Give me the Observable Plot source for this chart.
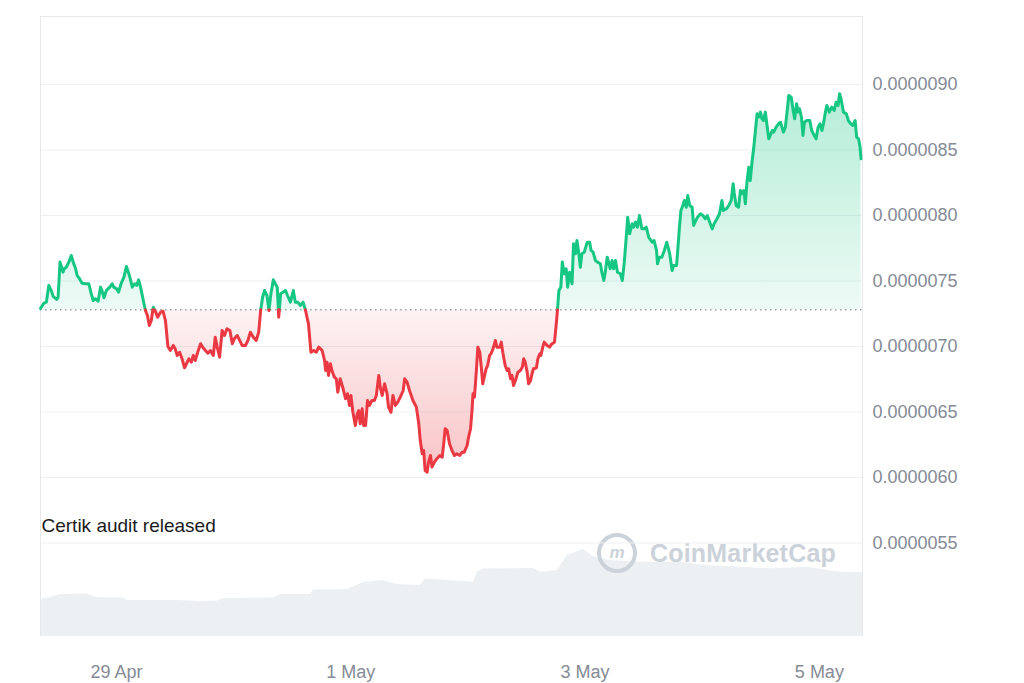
<!DOCTYPE html>
<html>
<head>
<meta charset="utf-8">
<script src="https://cdn.jsdelivr.net/npm/d3@7"></script>
<script src="https://cdn.jsdelivr.net/npm/@observablehq/plot@0.6"></script>
<style>
html, body { margin: 0; padding: 0; background: #fff; }
#wrap { position: relative; width: 1024px; height: 683px; overflow: hidden; font-family: "Liberation Sans", Arial, sans-serif; }
#wrap > svg { position: absolute; left: 0; top: 0; }
#wm { position: absolute; left: 597px; top: 533px; height: 40px; display: flex; align-items: center; color: #cbd2d9; pointer-events: none; }
#wm .ring { width: 32px; height: 32px; border: 4px solid #cbd2d9; border-radius: 50%; display: flex; align-items: center; justify-content: center; font: italic 700 17px "Liberation Sans", Arial, sans-serif; }
#wm .name { margin-left: 13px; font: 700 25px "Liberation Sans", Arial, sans-serif; letter-spacing: 0.2px; }
</style>
</head>
<body>
<svg width="0" height="0" style="position:absolute">
  <defs>
    <linearGradient id="gGreen" x1="0" y1="0" x2="0" y2="1">
      <stop offset="0" stop-color="#16c784" stop-opacity="0.32"/>
      <stop offset="1" stop-color="#16c784" stop-opacity="0.08"/>
    </linearGradient>
    <linearGradient id="gRed" x1="0" y1="0" x2="0" y2="1">
      <stop offset="0" stop-color="#ea3943" stop-opacity="0.06"/>
      <stop offset="1" stop-color="#ea3943" stop-opacity="0.30"/>
    </linearGradient>
  </defs>
</svg>
<div id="wrap"></div>
<script>
// ---- data ----
// hours since the first sample (28 Apr 08:26 UTC)
const hours = [
0,0.7,1.2,1.7,2.2,2.6,3.3,3.6,4.0,4.2,
4.6,4.9,5.3,5.8,6.3,6.7,7.2,7.5,8.0,8.5,
9.2,9.9,10.4,10.8,11.3,11.8,12.3,12.6,13.0,13.5,
14.2,14.7,15.0,15.6,16.0,16.5,17.1,17.6,18.0,18.3,
18.8,19.3,19.7,20.1,20.5,21.2,21.5,21.9,22.3,22.7,
23.1,23.6,24.0,24.6,25.1,25.6,26.1,26.6,27.2,27.6,
28.0,28.5,29.0,29.5,29.9,30.4,30.9,31.3,31.7,32.2,
32.8,33.3,33.8,34.3,34.8,35.4,35.8,36.2,36.7,37.2,
37.7,38.2,38.8,39.3,39.7,40.3,40.8,41.3,42.0,42.5,
43.0,43.6,44.2,44.7,45.1,45.5,45.9,46.4,46.8,47.2,
47.7,48.1,48.5,48.8,49.2,49.7,50.2,50.6,51.2,51.8,
52.2,52.7,53.2,53.8,54.3,54.9,55.4,56.0,56.5,57.0,
57.7,58.2,58.4,58.7,59.0,59.4,59.7,60.2,60.6,60.9,
61.4,62.0,62.5,62.9,63.3,63.6,64.0,64.5,64.9,65.2,
65.5,65.9,66.2,66.6,67.0,67.4,67.9,68.4,68.8,69.3,
69.6,70.0,70.5,71.0,71.3,71.8,72.2,72.7,73.2,73.7,
74.3,74.6,75.1,75.6,76.3,77.0,77.5,77.8,78.2,78.5,
78.8,79.2,79.5,79.9,80.2,80.7,81.2,81.8,82.3,82.6,
82.9,83.3,83.8,84.3,84.8,85.3,85.9,86.4,86.8,87.4,
87.7,88.1,88.4,88.6,88.9,89.3,89.6,90.0,90.3,90.6,
90.9,91.3,91.6,92.0,92.3,92.7,93.2,93.5,94.1,94.4,
94.7,95.2,95.6,95.9,96.3,96.6,96.9,97.3,97.8,98.3,
98.7,99.0,99.3,99.7,100.0,100.4,100.7,101.0,101.6,101.9,
102.3,102.5,102.9,103.2,103.8,104.3,104.8,105.3,105.7,105.9,
106.2,106.6,106.9,107.3,107.7,108.0,108.4,108.9,109.2,109.6,
109.9,110.2,110.6,110.9,111.4,112.0,112.5,112.8,113.2,113.7,
114.1,114.7,115.0,115.4,115.7,116.1,116.4,116.7,117.1,117.4,
117.8,118.2,118.8,119.2,119.6,120.0,120.3,120.7,121.2,121.5,
121.9,122.3,122.7,123.2,123.7,124.1,124.6,125.3,125.7,126.2,
126.4,126.8,127.3,127.8,128.3,128.9,129.4,129.7,130.3,130.5,
130.9,131.2,131.6,131.9,132.3,132.6,133.0,133.5,133.8,134.1,
134.6,135.2,135.7,136.2,136.6,137.1,137.6,138.0,138.6,139.1,
139.6,139.9,140.5,141.0,141.5,141.9,142.1,142.5,143.0,143.4,
143.7,144.1,144.4,144.7,145.1,145.4,145.8,146.1,146.4,146.8,
147.1,147.5,147.8,148.1,148.5,148.8,149.2,149.5,149.9,150.2,
150.7,151.2,151.6,151.9,152.2,152.6,152.9,153.3,153.8,154.2,
154.5,154.9,155.2,155.5,155.9,156.2,156.5,157.0,157.6,158.0,
158.5,158.9,159.3,159.7,160.1,160.4,160.8,161.1,161.6,162.1,
162.6,163.0,163.4,163.7,164.0,164.5,165.1,165.5,166.0,166.4,
166.9,167.2,167.6,167.9,168.1
];
// price in millionths of a dollar
const priceE6 = [
7.29,7.331,7.338,7.466,7.427,7.382,7.359,7.374,7.644,7.618,
7.567,7.595,7.605,7.644,7.695,7.644,7.593,7.542,7.517,7.483,
7.479,7.479,7.402,7.351,7.364,7.346,7.453,7.427,7.372,7.427,
7.453,7.479,7.453,7.44,7.415,7.479,7.529,7.611,7.567,7.529,
7.453,7.479,7.466,7.509,7.453,7.326,7.275,7.237,7.16,7.198,
7.30,7.262,7.224,7.262,7.269,7.198,7.0,6.969,7.008,6.982,
6.931,6.956,6.906,6.837,6.868,6.906,6.88,6.931,6.893,6.956,
7.021,6.99,6.969,6.949,6.969,6.931,7.071,6.995,6.918,7.122,
7.084,7.135,7.122,7.021,7.059,7.084,7.046,7.008,7.008,7.046,
7.109,7.071,7.046,7.109,7.275,7.376,7.427,7.389,7.275,7.402,
7.509,7.479,7.453,7.224,7.402,7.415,7.427,7.389,7.338,7.427,
7.338,7.338,7.313,7.338,7.275,7.173,6.956,6.969,6.956,6.995,
6.969,6.893,6.817,6.88,6.779,6.868,6.817,6.766,6.753,6.651,
6.753,6.677,6.601,6.639,6.55,6.626,6.498,6.397,6.486,6.511,
6.41,6.524,6.397,6.397,6.588,6.55,6.588,6.588,6.626,6.779,
6.689,6.626,6.715,6.639,6.537,6.498,6.626,6.55,6.575,6.613,
6.664,6.753,6.727,6.664,6.588,6.537,6.41,6.282,6.181,6.206,
6.053,6.04,6.117,6.168,6.079,6.117,6.143,6.168,6.155,6.257,
6.372,6.359,6.257,6.206,6.168,6.181,6.168,6.193,6.193,6.244,
6.308,6.372,6.511,6.639,6.613,6.817,6.995,6.956,6.842,6.715,
6.766,6.83,6.855,6.931,6.944,6.982,7.046,6.995,6.995,7.033,
6.956,6.855,6.817,6.83,6.753,6.779,6.702,6.74,6.804,6.817,
6.842,6.906,6.88,6.804,6.715,6.74,6.792,6.83,6.837,6.906,
6.944,6.931,6.995,7.033,7.008,6.995,7.021,7.033,7.185,7.275,
7.427,7.453,7.644,7.555,7.593,7.453,7.567,7.479,7.784,7.708,
7.809,7.733,7.605,7.708,7.72,7.796,7.796,7.733,7.72,7.656,
7.644,7.631,7.567,7.504,7.567,7.682,7.644,7.593,7.656,7.593,
7.656,7.567,7.555,7.504,7.644,7.834,7.987,7.86,7.937,7.911,
7.949,7.911,8.0,7.898,7.898,7.911,7.834,7.796,7.809,7.733,
7.631,7.682,7.682,7.733,7.796,7.708,7.58,7.618,7.618,7.708,
7.911,8.038,8.076,8.115,8.063,8.153,8.076,8.063,7.924,7.949,
7.987,8.013,8.0,7.975,8.0,7.949,7.898,7.937,7.975,8.013,
8.115,8.038,8.051,8.076,8.115,8.242,8.178,8.076,8.063,8.191,
8.166,8.191,8.089,8.242,8.369,8.267,8.42,8.509,8.624,8.776,
8.75,8.789,8.738,8.725,8.789,8.70,8.585,8.611,8.649,8.636,
8.674,8.70,8.712,8.674,8.636,8.674,8.776,8.916,8.903,8.802,
8.738,8.853,8.789,8.815,8.75,8.611,8.712,8.725,8.725,8.649,
8.611,8.585,8.674,8.70,8.649,8.70,8.789,8.84,8.789,8.827,
8.802,8.865,8.84,8.929,8.891,8.789,8.776,8.725,8.70,8.687,
8.725,8.598,8.585,8.521,8.433
];
// reference (opening) price, in millionths
const basePriceE6 = 7.28;

// volume (relative units) along the bottom band
const volHours = [0,2.0,4.1,9.2,11.7,17.0,17.8,28.1,32.8,36.3,37.5,47.7,49.2,55.3,55.9,62.9,66.2,70.2,73.1,77.8,78.8,83.4,88.7,89.5,90.7,101.0,102.4,105.9,107.9,109.6,111.2,113.3,116.7,122.9,131.1,136.6,143.4,150.1,157.1,163.8,168.4];
const volume = [37,39,42,42.5,39,38.5,36,36,35,35.5,38,38.5,42,42,46.5,47,54,56,52,51,57.5,56,54.3,64,67.5,68,64.3,66,81,84,87,80,76,74.3,74.3,71,69.3,67.7,69.3,64.3,64];

const yTicks = [0.0000055,0.0000060,0.0000065,0.0000070,0.0000075,0.0000080,0.0000085,0.0000090];
const xTicks = [new Date(Date.UTC(2024,3,29)), new Date(Date.UTC(2024,4,1)), new Date(Date.UTC(2024,4,3)), new Date(Date.UTC(2024,4,5))];
const annotations = ["Certik audit released"];

// ---- build ----
const start = Date.UTC(2024,3,28,8,26);
const spanHours = 168.4;
const end = start + spanHours * 36e5;
const xDomain = [new Date(start), new Date(end)];
const yDomain = [4.786e-6, 9.519e-6];
const base = basePriceE6 * 1e-6;
const GREEN = "#16c784", RED = "#ea3943";

const n = Math.min(hours.length, priceE6.length);
const rows = [];
for (let i = 0; i < n; i++) rows.push({date: new Date(start + hours[i] * 36e5), v: priceE6[i] * 1e-6});
// insert exact crossing points at the base price so colours split cleanly
const pts = [];
for (let i = 0; i < rows.length; i++) {
  if (i > 0) {
    const a = rows[i - 1], b = rows[i];
    if ((a.v - base) * (b.v - base) < 0) {
      const f = (base - a.v) / (b.v - a.v);
      pts.push({date: new Date(+a.date + f * (b.date - a.date)), v: base});
    }
  }
  pts.push(rows[i]);
}
const volRows = volHours.map((h, i) => ({date: new Date(start + h * 36e5), vol: volume[i]}));

const common = {width: 1024, height: 683, marginLeft: 40, marginRight: 162, marginTop: 16, marginBottom: 47};

const volPlot = Plot.plot({
  ...common,
  style: {background: "transparent"},
  x: {type: "utc", domain: xDomain, axis: null},
  y: {domain: [0, 100], range: [636, 536], axis: null},
  marks: [
    Plot.areaY(volRows, {x: "date", y: "vol", fill: "#edf0f3"})
  ]
});

const mainPlot = Plot.plot({
  ...common,
  style: {background: "transparent", fontFamily: "'Liberation Sans', Arial, sans-serif", fontSize: "18px", color: "#858b95"},
  x: {type: "utc", domain: xDomain, ticks: xTicks, tickFormat: d3.utcFormat("%-d %b"), tickSize: 0, tickPadding: 29, label: null},
  y: {domain: yDomain, axis: "right", ticks: yTicks, tickFormat: d => d.toFixed(7), tickSize: 0, tickPadding: 10, label: null},
  marks: [
    Plot.ruleY(yTicks, {stroke: "#eef0f3", strokeWidth: 1}),
    Plot.ruleY([yDomain[1]], {stroke: "#e6e8eb", strokeWidth: 1}),
    Plot.ruleX(xDomain, {stroke: "#e6e8eb", strokeWidth: 1}),
    Plot.areaY(pts, {x: "date", y1: d => base, y2: d => Math.max(d.v, base), fill: "url(#gGreen)"}),
    Plot.areaY(pts, {x: "date", y1: d => Math.min(d.v, base), y2: d => base, fill: "url(#gRed)"}),
    Plot.ruleY([base], {stroke: "#9aa0a8", strokeWidth: 1.5, strokeDasharray: "1.5,3.5"}),
    Plot.lineY(pts, {x: "date", y: d => d.v >= base ? d.v : NaN, stroke: GREEN, strokeWidth: 3, strokeLinejoin: "round", strokeLinecap: "round"}),
    Plot.lineY(pts, {x: "date", y: d => d.v <= base ? d.v : NaN, stroke: RED, strokeWidth: 3, strokeLinejoin: "round", strokeLinecap: "round"}),
    Plot.text(annotations, {x: d => xDomain[0], y: d => 5.63e-6, text: d => d, textAnchor: "start", dx: 1, fill: "#1b1b1b", fontSize: 19})
  ]
});

const wrap = document.getElementById("wrap");
wrap.appendChild(volPlot);
const wm = document.createElement("div");
wm.id = "wm";
wm.innerHTML = '<div class="ring">m</div><div class="name">CoinMarketCap</div>';
wrap.appendChild(wm);
wrap.appendChild(mainPlot);
</script>
</body>
</html>
